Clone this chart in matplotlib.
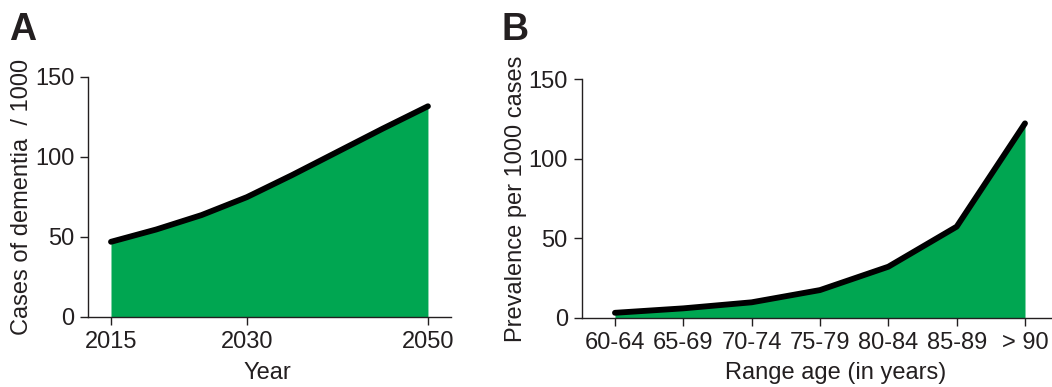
import matplotlib
matplotlib.use("Agg")
import matplotlib.pyplot as plt

plt.rcParams['font.family'] = ['Liberation Sans', 'DejaVu Sans']

# panel A: projected cases of dementia
years = [2015, 2020, 2025, 2030, 2035, 2040, 2045, 2050]
cases = [46.8, 54.5, 63.5, 74.7, 88.5, 103.0, 117.5, 131.5]
year_ticks = [2015, 2030, 2050]

# panel B: prevalence by age range
age_ranges = ['60-64', '65-69', '70-74', '75-79', '80-84', '85-89', '> 90']
prevalence = [3.1, 5.9, 9.7, 17.4, 32.1, 57.3, 122.3]

green = '#00a651'
ink = '#231f20'
fs = 17

fig = plt.figure(figsize=(10.52, 3.87), dpi=100)
axA = fig.add_axes([0.0839, 0.1817, 0.3445, 0.6202])
axB = fig.add_axes([0.5529, 0.1790, 0.4471, 0.6160])


def style(ax):
    for s in ['top', 'right']:
        ax.spines[s].set_visible(False)
    for s in ['left', 'bottom']:
        ax.spines[s].set_color(ink)
        ax.spines[s].set_linewidth(1.0)
    ax.tick_params(direction='out', length=6, width=1.0, color=ink,
                   labelsize=fs, labelcolor=ink, pad=4)
    ax.set_ylim(0, 150)
    ax.set_yticks([0, 50, 100, 150])


# A
axA.fill_between(years, 0, cases, color=green, linewidth=0)
axA.plot(years, cases, color='black', lw=4.2, solid_capstyle='round',
         solid_joinstyle='round')
axA.set_xlim(2012.49, 2052.51)
axA.set_xticks(year_ticks)
style(axA)
axA.set_xlabel('Year', fontsize=fs, color=ink)
axA.xaxis.set_label_coords(0.495, -0.19)
axA.set_ylabel('Cases of dementia  / 1000', fontsize=fs, color=ink)
axA.yaxis.set_label_coords(-0.153, 0.5)

# B
xs = list(range(len(age_ranges)))
axB.fill_between(xs, 0, prevalence, color=green, linewidth=0)
axB.plot(xs, prevalence, color='black', lw=4.2, solid_capstyle='round',
         solid_joinstyle='round')
axB.set_xlim(-0.4875, 6.395)
axB.set_xticks(xs)
axB.set_xticklabels(age_ranges)
style(axB)
axB.set_xlabel('Range age (in years)', fontsize=fs, color=ink)
axB.xaxis.set_label_coords(0.539, -0.185)
axB.set_ylabel('Prevalence per 1000 cases', fontsize=fs, color=ink)
axB.yaxis.set_label_coords(-0.116, 0.5)

fig.text(0.009, 0.97, 'A', fontsize=27, fontweight='bold', color=ink,
         va='top', ha='left')
fig.text(0.477, 0.97, 'B', fontsize=27, fontweight='bold', color=ink,
         va='top', ha='left')

fig.savefig('out.png', dpi=100)
